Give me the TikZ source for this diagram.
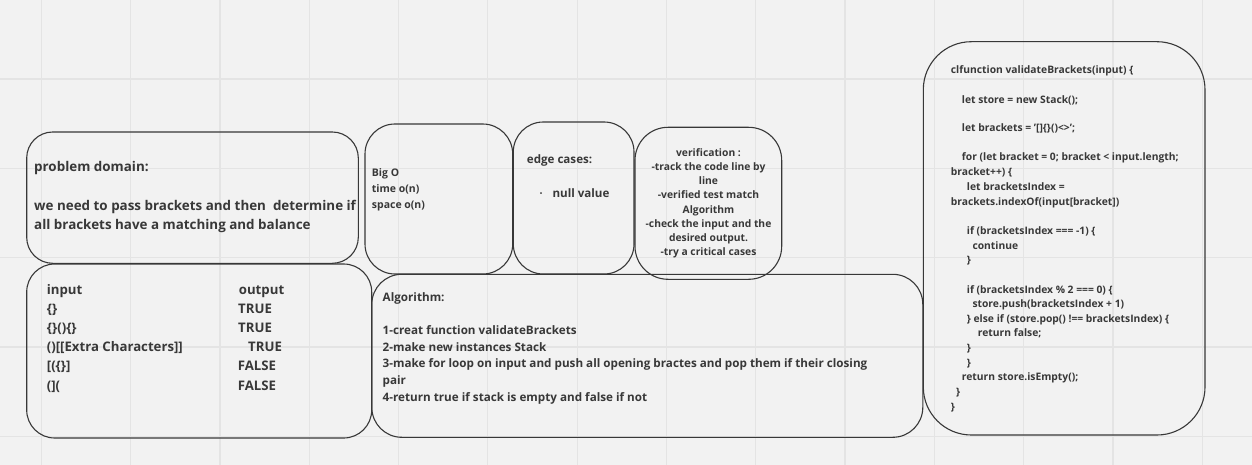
\documentclass[tikz,border=0pt]{standalone}
\usepackage{fontspec}
\setmainfont{Open Sans}
\definecolor{bg}{HTML}{F2F2F2}
\definecolor{gridc}{HTML}{E4E4E4}
\definecolor{ink}{HTML}{383838}
\begin{document}
\begin{tikzpicture}[x=1pt,y=-1pt,
  gridline/.style={draw=gridc, line width=1.2pt},
  box/.style={draw=ink, line width=1.1pt, inner sep=0pt, outer sep=0pt, anchor=north west},
  t/.style={anchor=base west, inner sep=0pt, text=ink},
  tc/.style={anchor=base, inner sep=0pt, text=ink},
  fpd/.style={font=\fontsize{13.4}{15}\selectfont\bfseries},
  fsm/.style={font=\fontsize{10.5}{13}\selectfont\bfseries},
  fedge/.style={font=\fontsize{11.6}{14}\selectfont\bfseries},
  fio/.style={font=\fontsize{13.2}{14}\selectfont\bfseries},
  fver/.style={font=\fontsize{10.3}{12}\selectfont\bfseries},
  falg/.style={font=\fontsize{11.68}{13}\selectfont\bfseries},
  fcode/.style={font=\fontsize{10.3}{12}\selectfont\bfseries}]
\fill[bg] (0,0) rectangle (1252,465);
\useasboundingbox (0,0) rectangle (1252,465);
\foreach \i in {0,...,13} \draw[gridline] ({41.3+89.3*\i},0) -- ({41.3+89.3*\i},465);
\foreach \j in {0,...,4} \draw[gridline] (0,{79+89.3*\j}) -- (1252,{79+89.3*\j});

% boxes
\node[box, rounded corners=26pt, minimum width=331.6pt, minimum height=131.3pt] (pd) at (26.7,132) {};
\node[box, rounded corners=30pt, minimum width=147.7pt, minimum height=150pt] (bigo) at (365,124) {};
\node[box, rounded corners=30pt, minimum width=120.7pt, minimum height=152pt] (edge) at (513.3,122) {};
\node[box, rounded corners=33pt, minimum width=146.7pt, minimum height=152pt] (ver) at (635,127.3) {};
\node[box, rounded corners=28pt, minimum width=345pt, minimum height=174pt] (io) at (26.7,264) {};
\node[box, rounded corners=30pt, minimum width=551pt, minimum height=163pt] (alg) at (371.8,274.3) {};
\node[box, rounded corners=48pt, minimum width=281.7pt, minimum height=393.3pt] (code) at (923.3,41.7) {};

% problem domain
\node[t,fpd] (pd1) at (34,171.7) {problem domain:};
\node[t,fpd] (pd2) at (34,210.5) {we need to pass brackets and then\ \ determine if};
\node[t,fpd] (pd3) at (34,229) {all brackets have a matching and balance};

% big O
\node[t,fsm] (b1) at (371.7,176.7) {Big O};
\node[t,fsm] (b2) at (371.7,192.7) {time o(n)};
\node[t,fsm] (b3) at (371.7,208.3) {space o(n)};

% edge cases
\node[t,fedge] (e1) at (526.7,164) {edge cases:};
\node[t,text=ink,inner sep=0pt,anchor=base west,font=\fontsize{8}{9}\selectfont] (e2) at (539.5,196.5) {•};
\node[t,fedge] (e3) at (552.3,197.7) {null value};

% verification
\node[tc,fver] (v1) at (708.5,156.7) {verification :};
\node[tc,fver] (v2) at (708.5,170.8) {-track the code line by};
\node[tc,fver] (v3) at (708.5,184.9) {line};
\node[tc,fver] (v4) at (708.5,199) {-verified test match};
\node[tc,fver] (v5) at (708.5,213.1) {Algorithm};
\node[tc,fver] (v6) at (708.5,227.2) {-check the input and the};
\node[tc,fver] (v7) at (708.5,241.3) {desired output.};
\node[tc,fver] (v8) at (708.5,255.4) {-try a critical cases};

% input / output
\node[t,fio] (i0) at (46.7,294) {input};
\node[t,fio] (o0) at (238.7,294) {output};
\node[t,fio] (i1) at (46.7,313.5) {\{\}};
\node[t,fio] (o1) at (238,313.5) {TRUE};
\node[t,fio] (i2) at (46.7,332.5) {\{\}()\{\}};
\node[t,fio] (o2) at (238,332.5) {TRUE};
\node[t,fio] (i3) at (46.7,351.5) {()[[Extra Characters]]};
\node[t,fio] (o3) at (248,351.5) {TRUE};
\node[t,fio] (i4) at (46.7,370.8) {[(\{\}]};
\node[t,fio] (o4) at (237.7,370.8) {FALSE};
\node[t,fio] (i5) at (46.7,390) {(](};
\node[t,fio] (o5) at (237.7,390) {FALSE};

% algorithm
\node[t,falg] (a0) at (382.5,301) {Algorithm:};
\node[t,falg] (a1) at (382.5,334.5) {1-creat function validateBrackets};
\node[t,falg] (a2) at (382.5,351.2) {2-make new instances Stack};
\node[t,falg] (a3) at (382.5,367.9) {3-make for loop on input and push all opening bractes and pop them if their closing};
\node[t,falg] (a4) at (382.5,384.6) {pair};
\node[t,falg] (a5) at (382.5,401.3) {4-return true if stack is empty and false if not};

% code
\node[t,fcode] (c1) at (950.7,73.3) {clfunction validateBrackets(input) \{};
\node[t,fcode] (c2) at (961.7,103.3) {let store = new Stack();};
\node[t,fcode] (c3) at (961.7,131.7) {let brackets = '[]\{\}()<>';};
\node[t,fcode] (c4) at (961.7,161) {for (let bracket = 0; bracket < input.length;};
\node[t,fcode] (c5) at (950.7,175.5) {bracket++) \{};
\node[t,fcode] (c6) at (966.7,190.5) {let bracketsIndex =};
\node[t,fcode] (c7) at (950.7,205) {brackets.indexOf(input[bracket])};
\node[t,fcode] (c8) at (966.7,234.3) {if (bracketsIndex === -1) \{};
\node[t,fcode] (c9) at (972.3,249) {continue};
\node[t,fcode] (c10) at (966.7,263.5) {\}};
\node[t,fcode] (c11) at (966.7,293.3) {if (bracketsIndex \% 2 === 0) \{};
\node[t,fcode] (c12) at (972.3,307.5) {store.push(bracketsIndex + 1)};
\node[t,fcode] (c13) at (966.7,322.3) {\} else if (store.pop() !== bracketsIndex) \{};
\node[t,fcode] (c14) at (977.7,336.8) {return false;};
\node[t,fcode] (c15) at (966.7,351.6) {\}};
\node[t,fcode] (c16) at (966.7,366) {\}};
\node[t,fcode] (c17) at (961.7,380.7) {return store.isEmpty();};
\node[t,fcode] (c18) at (956,395.5) {\}};
\node[t,fcode] (c19) at (950.7,410) {\}};
\end{tikzpicture}
\end{document}
